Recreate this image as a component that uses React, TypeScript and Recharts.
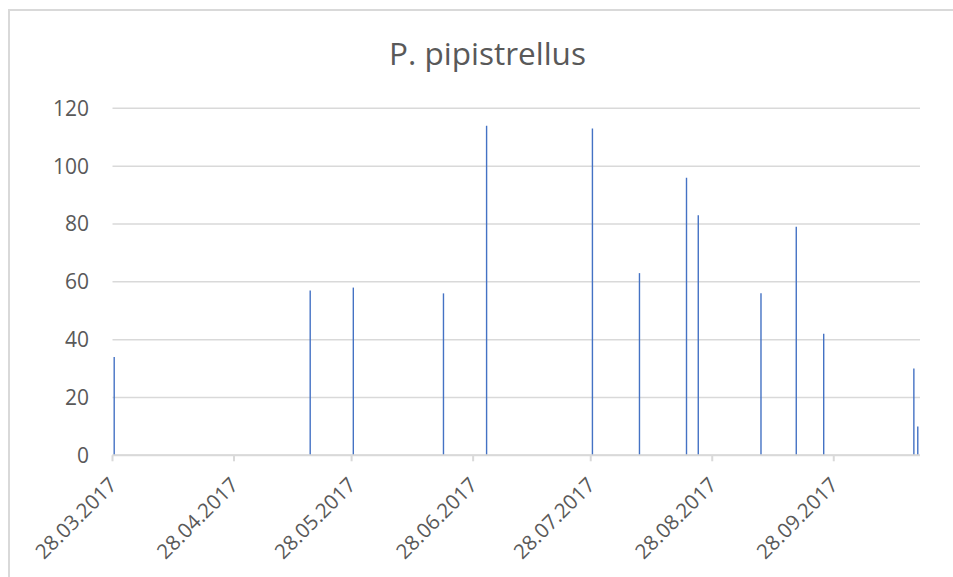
import React from 'react';
import { BarChart, Bar, XAxis, YAxis, CartesianGrid } from 'recharts';

const chartTitle = 'P. pipistrellus';
const startDate = '2017-03-28';
const endDate = '2017-10-20';
const obsDates = [
  '2017-03-28', '2017-05-17', '2017-05-28', '2017-06-20', '2017-07-01',
  '2017-07-28', '2017-08-09', '2017-08-21', '2017-08-24', '2017-09-09',
  '2017-09-18', '2017-09-25', '2017-10-18', '2017-10-19',
];
const counts = [34, 57, 58, 56, 114, 113, 63, 96, 83, 56, 79, 42, 30, 10];
const tickLabels = [
  '28.03.2017', '28.04.2017', '28.05.2017', '28.06.2017',
  '28.07.2017', '28.08.2017', '28.09.2017',
];
const yTicks = [0, 20, 40, 60, 80, 100, 120];

const isoToUTC = (s: string) => {
  const [y, m, d] = s.split('-').map(Number);
  return Date.UTC(y, m - 1, d);
};
const dmyToUTC = (s: string) => {
  const [d, m, y] = s.split('.').map(Number);
  return Date.UTC(y, m - 1, d);
};
const DAY = 86400000;
const t0 = isoToUTC(startDate);
const dayOfIso = (s: string) => Math.round((isoToUTC(s) - t0) / DAY);
const dayOfDmy = (s: string) => Math.round((dmyToUTC(s) - t0) / DAY);

const tickDays = tickLabels.map(dayOfDmy);
const axisEnd = dayOfIso(endDate);
const data = obsDates.map((d, i) => ({ pos: dayOfIso(d) + 0.5, count: counts[i] }));

const FONT = '"Open Sans", "Noto Sans", sans-serif';
const TEXT = '#595959';
const GRID = '#d9d9d9';

const XTick = (props: any) => {
  const { x, y, payload } = props;
  const idx = tickDays.indexOf(payload.value);
  const label = idx >= 0 ? tickLabels[idx] : '';
  const px = x + 5.5;
  const py = y + 23;
  return (
    <text
      x={px}
      y={py}
      transform={`rotate(-45 ${px} ${py})`}
      textAnchor="end"
      fill={TEXT}
      fontSize={20.5}
      fontFamily={FONT}
    >
      {label}
    </text>
  );
};

export default function App() {
  return (
    <div
      style={{
        position: 'fixed',
        left: 0,
        top: 0,
        width: 953,
        height: 577,
        background: '#fff',
        fontFamily: FONT,
        overflow: 'hidden',
        zIndex: 10,
      }}
    >
      <div
        style={{
          position: 'absolute',
          left: 8,
          top: 9,
          width: 1000,
          height: 700,
          borderTop: `2px solid ${GRID}`,
          borderLeft: `2px solid ${GRID}`,
          boxSizing: 'border-box',
          pointerEvents: 'none',
        }}
      />
      <div style={{ position: 'absolute', left: 8, top: 8, width: 945, height: 569 }}>
        <BarChart
          width={945}
          height={569}
          data={data}
          margin={{ top: 100.3, right: 33, left: 0, bottom: 61.7 }}
        >
          <CartesianGrid vertical={false} stroke={GRID} strokeWidth={1.5} />
          <XAxis
            type="number"
            dataKey="pos"
            domain={[0, axisEnd]}
            ticks={tickDays}
            interval={0}
            allowDataOverflow
            height={60}
            tickSize={6}
            axisLine={{ stroke: GRID, strokeWidth: 2 }}
            tickLine={{ stroke: GRID, strokeWidth: 2 }}
            tick={<XTick />}
          />
          <YAxis
            domain={[0, 120]}
            ticks={yTicks}
            interval={0}
            width={104.5}
            axisLine={false}
            tickLine={false}
            tickSize={0}
            tickMargin={23.5}
            tick={{ fill: TEXT, fontSize: 21, fontFamily: FONT }}
          />
          <Bar dataKey="count" fill="#4472C4" barSize={1.4} isAnimationActive={false} />
        </BarChart>
        <svg
          width={945}
          height={569}
          style={{ position: 'absolute', left: 0, top: 0, pointerEvents: 'none' }}
        >
          <text x={479.5} y={57} textAnchor="middle" fill={TEXT} fontSize={31.5} fontFamily={FONT}>
            {chartTitle}
          </text>
        </svg>
      </div>
    </div>
  );
}
